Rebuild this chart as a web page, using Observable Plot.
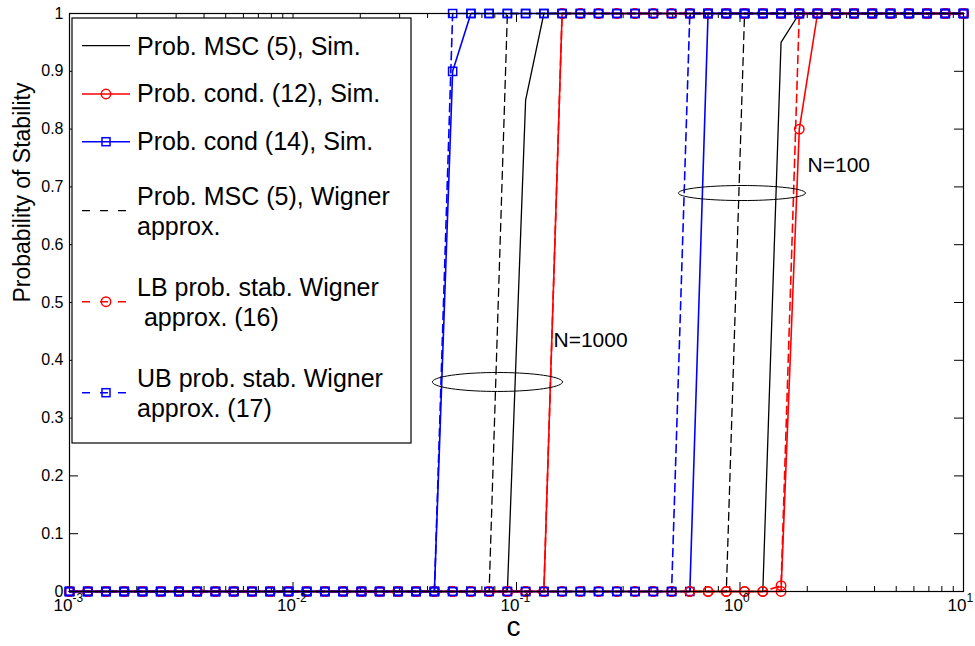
<!DOCTYPE html>
<html><head><meta charset="utf-8">
<script src="https://cdn.jsdelivr.net/npm/d3@7"></script>
<script src="https://cdn.jsdelivr.net/npm/@observablehq/plot@0.6"></script>
<style>
body{margin:0;background:#fff}
svg{display:block}
</style>
</head><body><div id="chart"></div>
<script>
// sample points of c (log-spaced)
const cValues = [0.001,0.0012068,0.0014563,0.0017575,0.002121,0.0025595,0.0030888,0.0037276,0.0044984,0.0054287,
 0.0065513,0.007906,0.009541,0.011514,0.013895,0.016768,0.020236,0.024421,0.029471,0.035565,
 0.042919,0.051795,0.062506,0.075431,0.09103,0.10985,0.13257,0.15999,0.19307,0.233,
 0.28118,0.33932,0.40949,0.49417,0.59636,0.71969,0.86851,1.0481,1.2649,1.5264,
 1.8421,2.223,2.6827,3.2375,3.9069,4.7149,5.6899,6.8665,8.2864,10];

// N = 1000
const mscSim1000   = [0,0,0,0,0,0,0,0,0,0, 0,0,0,0,0,0,0,0,0,0, 0,0,0,0,0,0.85,1,1,1,1, 1,1,1,1,1,1,1,1,1,1, 1,1,1,1,1,1,1,1,1,1];
const cond12Sim1000= [0,0,0,0,0,0,0,0,0,0, 0,0,0,0,0,0,0,0,0,0, 0,0,0,0,0,0,0,1,1,1, 1,1,1,1,1,1,1,1,1,1, 1,1,1,1,1,1,1,1,1,1];
const cond14Sim1000= [0,0,0,0,0,0,0,0,0,0, 0,0,0,0,0,0,0,0,0,0, 0,0.9,1,1,1,1,1,1,1,1, 1,1,1,1,1,1,1,1,1,1, 1,1,1,1,1,1,1,1,1,1];
const mscWig1000   = [0,0,0,0,0,0,0,0,0,0, 0,0,0,0,0,0,0,0,0,0, 0,0,0,0,1,1,1,1,1,1, 1,1,1,1,1,1,1,1,1,1, 1,1,1,1,1,1,1,1,1,1];
const lb16Wig1000  = [0,0,0,0,0,0,0,0,0,0, 0,0,0,0,0,0,0,0,0,0, 0,0,0,0,0,0,0,1,1,1, 1,1,1,1,1,1,1,1,1,1, 1,1,1,1,1,1,1,1,1,1];
const ub17Wig1000  = [0,0,0,0,0,0,0,0,0,0, 0,0,0,0,0,0,0,0,0,0, 0,1,1,1,1,1,1,1,1,1, 1,1,1,1,1,1,1,1,1,1, 1,1,1,1,1,1,1,1,1,1];
// N = 100
const mscSim100    = [0,0,0,0,0,0,0,0,0,0, 0,0,0,0,0,0,0,0,0,0, 0,0,0,0,0,0,0,0,0,0, 0,0,0,0,0,0,0,0,0,0.95, 1,1,1,1,1,1,1,1,1,1];
const cond12Sim100 = [0,0,0,0,0,0,0,0,0,0, 0,0,0,0,0,0,0,0,0,0, 0,0,0,0,0,0,0,0,0,0, 0,0,0,0,0,0,0,0,0,0, 0.8,1,1,1,1,1,1,1,1,1];
const cond14Sim100 = [0,0,0,0,0,0,0,0,0,0, 0,0,0,0,0,0,0,0,0,0, 0,0,0,0,0,0,0,0,0,0, 0,0,0,0,0,1,1,1,1,1, 1,1,1,1,1,1,1,1,1,1];
const mscWig100    = [0,0,0,0,0,0,0,0,0,0, 0,0,0,0,0,0,0,0,0,0, 0,0,0,0,0,0,0,0,0,0, 0,0,0,0,0,0,0,1,1,1, 1,1,1,1,1,1,1,1,1,1];
const lb16Wig100   = [0,0,0,0,0,0,0,0,0,0, 0,0,0,0,0,0,0,0,0,0, 0,0,0,0,0,0,0,0,0,0, 0,0,0,0,0,0,0,0,0,0.01, 1,1,1,1,1,1,1,1,1,1];
const ub17Wig100   = [0,0,0,0,0,0,0,0,0,0, 0,0,0,0,0,0,0,0,0,0, 0,0,0,0,0,0,0,0,0,0, 0,0,0,0,1,1,1,1,1,1, 1,1,1,1,1,1,1,1,1,1];

const xMajorTicks = [0.001,0.01,0.1,1,10];
const xTickExponents = ["-3","-2","-1","0","1"];
const xMinorTicks = [0.002,0.003,0.004,0.005,0.006,0.007,0.008,0.009,
 0.02,0.03,0.04,0.05,0.06,0.07,0.08,0.09,
 0.2,0.3,0.4,0.5,0.6,0.7,0.8,0.9,
 2,3,4,5,6,7,8,9];
const yTicks = [0,0.1,0.2,0.3,0.4,0.5,0.6,0.7,0.8,0.9,1];
const yTickLabels = ["0","0.1","0.2","0.3","0.4","0.5","0.6","0.7","0.8","0.9","1"];

const legendLabels = [
 ["Prob. MSC (5), Sim."],
 ["Prob. cond. (12), Sim."],
 ["Prob. cond (14), Sim."],
 ["Prob. MSC (5), Wigner","approx."],
 ["LB prob. stab. Wigner"," approx. (16)"],
 ["UB prob. stab. Wigner","approx. (17)"]
];
const annotationLabels = ["N=1000","N=100"];
const annotationX = [0.1464, 2.005];
const annotationY = [0.434, 0.737];
// ellipses: centre c, centre y, half-width (decades), half-height
const ellipseCenterC = [0.0822, 1.02];
const ellipseCenterY = [0.3625, 0.6894];
const ellipseHalfW = [0.291, 0.284];
const ellipseHalfH = [0.0164, 0.013];

const BLACK = "#000000", RED = "#ff0000", BLUE = "#0000ff";
const styles = [
 {color: BLACK, dash: null, marker: null},
 {color: RED, dash: null, marker: "circle"},
 {color: BLUE, dash: null, marker: "square"},
 {color: BLACK, dash: "8,5", marker: null},
 {color: RED, dash: "8,5", marker: "circle"},
 {color: BLUE, dash: "8,5", marker: "square"}
];
const seriesValues = [
 [mscSim1000, mscSim100],
 [cond12Sim1000, cond12Sim100],
 [cond14Sim1000, cond14Sim100],
 [mscWig1000, mscWig100],
 [lb16Wig1000, lb16Wig100],
 [ub17Wig1000, ub17Wig100]
];

const W = 975, H = 646, mL = 69, mR = 12, mT = 13, mB = 55;
const innerW = W - mL - mR, innerH = H - mT - mB;
const FONT = "'Liberation Sans', Arial, Helvetica, sans-serif";

const marks = [];
// ticks (inside, MATLAB style)
marks.push(Plot.ruleX(xMajorTicks, {x: d => d, insetTop: innerH - 9, stroke: "black", strokeWidth: 1}));
marks.push(Plot.ruleX(xMajorTicks, {x: d => d, insetBottom: innerH - 9, stroke: "black", strokeWidth: 1}));
marks.push(Plot.ruleX(xMinorTicks, {x: d => d, insetTop: innerH - 5, stroke: "black", strokeWidth: 1}));
marks.push(Plot.ruleX(xMinorTicks, {x: d => d, insetBottom: innerH - 5, stroke: "black", strokeWidth: 1}));
marks.push(Plot.ruleY(yTicks, {y: d => d, insetRight: innerW - 9, stroke: "black", strokeWidth: 1}));
marks.push(Plot.ruleY(yTicks, {y: d => d, insetLeft: innerW - 9, stroke: "black", strokeWidth: 1}));

// data series
styles.forEach((s, k) => {
  seriesValues[k].forEach(vals => {
    const data = cValues.map((c, i) => ({c, p: vals[i]}));
    marks.push(Plot.line(data, {x: "c", y: "p", stroke: s.color, strokeWidth: s.color === BLACK ? 1.3 : 1.6,
      strokeDasharray: s.dash || undefined, strokeLinejoin: "miter"}));
    if (s.marker) {
      marks.push(Plot.dot(data, {x: "c", y: "p", symbol: s.marker, r: s.marker === "square" ? 4.6 : 4.7,
        stroke: s.color, strokeWidth: 1.5, fill: "none"}));
    }
  });
});

// ellipses
ellipseCenterC.forEach((c, k) => {
  const pts = d3.range(0, 73).map(j => {
    const t = j / 72 * 2 * Math.PI;
    return {c: c * Math.pow(10, ellipseHalfW[k] * Math.cos(t)), p: ellipseCenterY[k] + ellipseHalfH[k] * Math.sin(t)};
  });
  marks.push(Plot.line(pts, {x: "c", y: "p", stroke: "black", strokeWidth: 1, curve: "linear"}));
});
marks.push(Plot.text(annotationLabels, {x: (d, i) => annotationX[i], y: (d, i) => annotationY[i], text: d => d,
  textAnchor: "start", fontSize: 21, fill: "black"}));

marks.push(Plot.frame({stroke: "black", strokeWidth: 1.2}));

// tick labels
marks.push(Plot.text(yTickLabels, {y: (d, i) => yTicks[i], text: d => d, frameAnchor: "left", dx: -6,
  textAnchor: "end", fontSize: 16, fill: "black"}));
marks.push(Plot.text(xMajorTicks, {x: d => d, text: () => "10", frameAnchor: "bottom", dy: 19, dx: 3,
  textAnchor: "end", fontSize: 17, fill: "black"}));
marks.push(Plot.text(xMajorTicks, {x: d => d, text: (d, i) => xTickExponents[i], frameAnchor: "bottom", dy: 10, dx: 3,
  textAnchor: "start", fontSize: 12, fill: "black"}));
// axis labels
marks.push(Plot.text(["Probability of Stability"], {text: d => d, frameAnchor: "left", dx: -47, rotate: -90,
  fontSize: 23, fill: "black"}));
marks.push(Plot.text(["c"], {text: d => d, frameAnchor: "bottom", dy: 44, dx: -3, fontSize: 28, fill: "black"}));

const plot = Plot.plot({
  width: W, height: H,
  marginLeft: mL, marginRight: mR, marginTop: mT, marginBottom: mB,
  style: {fontFamily: FONT, background: "white", overflow: "visible"},
  x: {type: "log", domain: [0.001, 10], axis: null},
  y: {domain: [0, 1], axis: null},
  marks
});
document.getElementById("chart").appendChild(plot);

// legend
const svg = d3.select(plot);
const lg = svg.append("g").attr("font-family", FONT).attr("text-anchor", "start");
lg.append("rect").attr("x", 72).attr("y", 18).attr("width", 339).attr("height", 425)
  .attr("fill", "white").attr("stroke", "black").attr("stroke-width", 1.2);
const rowLineY = [45.7, 94, 141.7, 210.7, 301.7, 392.7];
const rowBaseY = [55, 101.7, 150, 205, 296, 387];
legendLabels.forEach((lines, k) => {
  const s = styles[k];
  const y = rowLineY[k];
  lg.append("line").attr("x1", 82).attr("x2", 130).attr("y1", y).attr("y2", y)
    .attr("stroke", s.color).attr("stroke-width", s.color === BLACK ? 1.3 : 1.6)
    .attr("stroke-dasharray", s.dash ? "8,10" : null);
  if (s.marker === "circle") {
    lg.append("circle").attr("cx", 106).attr("cy", y).attr("r", 4.7)
      .attr("fill", "none").attr("stroke", s.color).attr("stroke-width", 1.5);
  } else if (s.marker === "square") {
    lg.append("rect").attr("x", 106 - 4).attr("y", y - 4).attr("width", 8).attr("height", 8)
      .attr("fill", "none").attr("stroke", s.color).attr("stroke-width", 1.5);
  }
  lines.forEach((t, j) => {
    lg.append("text").attr("x", 137).attr("y", rowBaseY[k] + j * 29.5)
      .attr("text-anchor", "start")
      .attr("font-size", 25).attr("fill", "black").style("white-space", "pre").text(t);
  });
});
</script>
</body></html>
